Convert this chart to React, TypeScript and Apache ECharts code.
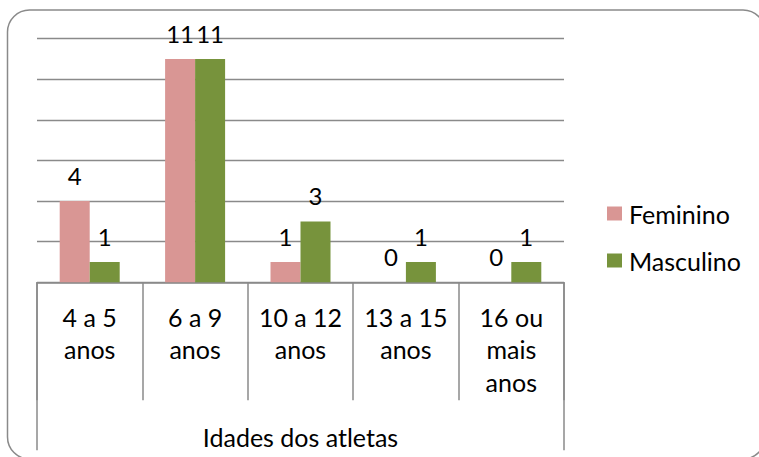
import React, { useEffect, useRef } from "react";
import * as echarts from "echarts";

const categories = ["4 a 5\nanos", "6 a 9\nanos", "10 a 12\nanos", "13 a 15\nanos", "16 ou\nmais\nanos"];
const feminino = [4, 11, 1, 0, 0];
const masculino = [1, 11, 3, 1, 1];
const seriesNames = ["Feminino", "Masculino"];
const axisTitle = "Idades dos atletas";
const yMin = 0;
const yMax = 12;
const yInterval = 2;

const FONT = "Lato";
const FS = 25;
const GRAY = "#8a8a8a";

export default function App() {
  const ref = useRef<HTMLDivElement>(null);
  useEffect(() => {
    if (!ref.current) return;
    const chart = echarts.init(ref.current, null, { renderer: "svg" });
    const labelStyle = {
      show: true,
      position: "top",
      distance: 14,
      fontFamily: FONT,
      fontSize: 24,
      color: "#000",
    };
    chart.setOption({
      animation: false,
      backgroundColor: "#fff",
      textStyle: { fontFamily: FONT },
      graphic: [
        {
          type: "rect",
          silent: true,
          z: -10,
          shape: { x: 7.5, y: 10, width: 757.5, height: 449, r: 22 },
          style: { fill: "none", stroke: GRAY, lineWidth: 1.5 },
        },
      ],
      grid: { left: 37, right: 195, top: 38.7, bottom: 174.7, containLabel: false },
      legend: {
        orient: "vertical",
        left: 607,
        top: 201,
        padding: 0,
        itemWidth: 15,
        itemHeight: 14,
        itemGap: 22,
        icon: "rect",
        data: seriesNames,
        textStyle: { fontFamily: FONT, fontSize: FS, color: "#000", padding: [0, 0, 0, 2] },
      },
      xAxis: [
        {
          type: "category",
          data: categories,
          position: "bottom",
          axisLine: { show: true, lineStyle: { color: GRAY, width: 1.5 } },
          axisTick: { show: true, length: 118, interval: 0, lineStyle: { color: GRAY, width: 1.5 } },
          axisLabel: {
            interval: 0,
            margin: 18,
            fontFamily: FONT,
            fontSize: FS,
            lineHeight: 32.5,
            color: "#000",
          },
        },
        {
          type: "category",
          data: [axisTitle],
          position: "bottom",
          axisLine: { show: false },
          axisTick: { show: true, length: 168, lineStyle: { color: GRAY, width: 1.5 } },
          axisLabel: { show: false },
          name: axisTitle,
          nameLocation: "middle",
          nameGap: 142,
          nameTextStyle: { fontFamily: FONT, fontSize: FS, color: "#000" },
        },
      ],
      yAxis: {
        type: "value",
        min: yMin,
        max: yMax,
        interval: yInterval,
        axisLine: { show: false },
        axisTick: { show: false },
        axisLabel: { show: false },
        splitLine: { show: true, lineStyle: { color: GRAY, width: 1.4 } },
      },
      series: [
        {
          name: seriesNames[0],
          type: "bar",
          xAxisIndex: 0,
          data: feminino,
          barWidth: 30,
          barGap: "0%",
          itemStyle: { color: "#D99694" },
          label: labelStyle,
        },
        {
          name: seriesNames[1],
          type: "bar",
          xAxisIndex: 0,
          data: masculino,
          barWidth: 30,
          barGap: "0%",
          itemStyle: { color: "#77933C" },
          label: labelStyle,
        },
      ],
    });
    return () => chart.dispose();
  }, []);
  return (
    <div
      ref={ref}
      style={{ position: "fixed", left: 0, top: 0, width: 759, height: 457 }}
    />
  );
}
